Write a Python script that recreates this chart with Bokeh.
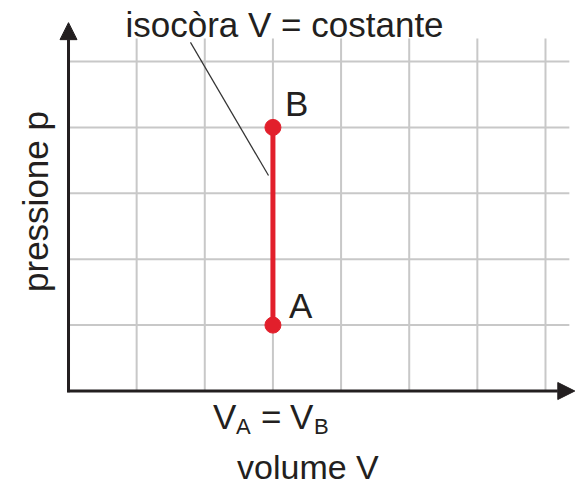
from bokeh.plotting import figure
from bokeh.models import Range1d, Arrow, NormalHead, ColumnDataSource
from bokeh.core.properties import value
from bokeh.embed import file_html
from bokeh.resources import INLINE

# Grid line positions, in grid-cell units
grid_v = [1, 2, 3, 4, 5, 6, 7]
grid_h = [1, 2, 3, 4, 5]

# Isochoric transformation A -> B (constant volume)
state_names = ["A", "B"]
state_volume = [3, 3]
state_pressure = [1, 4]

title_text = "isocòra V = costante"
x_title = "volume V"
y_title = "pressione p"
# tick label "V_A = V_B" built from normal and subscript pieces
tick_parts = ["V", "A", "=", "V", "B"]
tick_is_sub = [False, True, False, False, True]
tick_dx = [-60, -37, -12, 17, 41]

FONT = "Liberation Sans"
INK = "#231f20"
RED = "#e21f2b"
GRID = "#c8c8c8"
# the svg text baseline sits lower than the canvas one; lift every text by this
LIFT = -12

p = figure(
    width=576, height=486,
    x_range=Range1d(-0.998, 7.455), y_range=Range1d(-1.449, 5.926),
    x_axis_type=None, y_axis_type=None,
    min_border=0, toolbar_location=None, output_backend="svg",
    outline_line_color=None,
    background_fill_color="white", border_fill_color="white",
)

# grid: vertical lines rise a little above the top row, horizontal run past the last column
v_top = 5.35
h_right = 7.35
p.segment(x0=grid_v, y0=[0] * len(grid_v), x1=grid_v, y1=[v_top] * len(grid_v),
          line_color=GRID, line_width=2)
p.segment(x0=[0] * len(grid_h), y0=grid_h, x1=[h_right] * len(grid_h), y1=grid_h,
          line_color=GRID, line_width=2)

# axes with arrow heads
for xs, ys, xe, ye in [(0, -0.02, 0, 5.59), (-0.02, 0, 7.43, 0)]:
    p.add_layout(Arrow(
        x_start=xs, y_start=ys, x_end=xe, y_end=ye,
        line_color=INK, line_width=3,
        end=NormalHead(size=17, fill_color=INK, line_color=INK, line_width=1),
    ))

# the isochore and its end states
p.line(state_volume, state_pressure, line_color=RED, line_width=5)
p.scatter(state_volume, state_pressure, size=16, fill_color=RED, line_color=RED)

states = ColumnDataSource(dict(
    x=state_volume, y=state_pressure, text=state_names,
    dx=[16, 12], dy=[-8 + LIFT, -12 + LIFT],
))
p.text(x="x", y="y", text="text", x_offset="dx", y_offset="dy", source=states,
       text_font=value(FONT), text_font_size="35px", text_color=INK,
       text_align="left", text_baseline="alphabetic")

# callout for the isochore
p.line([1.79, 2.935], [5.29, 3.27], line_color="#333333", line_width=1.2)
p.text(x=[0.836], y=[5.38], text=[title_text], y_offset=LIFT,
       text_font=value(FONT), text_font_size="35px", text_color=INK,
       text_align="left", text_baseline="alphabetic")

# tick label under the isochore: V_A = V_B
tick = ColumnDataSource(dict(
    x=[state_volume[0]] * len(tick_parts), y=[0] * len(tick_parts), text=tick_parts,
    dx=tick_dx,
    dy=[(47.5 if s else 37.5) + LIFT for s in tick_is_sub],
    size=["22px" if s else "35px" for s in tick_is_sub],
))
p.text(x="x", y="y", text="text", x_offset="dx", y_offset="dy",
       text_font_size="size", source=tick,
       text_font=value(FONT), text_color=INK,
       text_align="left", text_baseline="alphabetic")

# axis titles
p.text(x=[state_volume[0]], y=[0], text=[x_title], x_offset=35, y_offset=87.5 + LIFT,
       text_font=value(FONT), text_font_size="34px", text_color=INK,
       text_align="center", text_baseline="alphabetic")
p.text(x=[-0.308], y=[2.876], text=[y_title], angle=1.5708, x_offset=LIFT,
       text_font=value(FONT), text_font_size="35px", text_color=INK,
       text_align="center", text_baseline="alphabetic")

open("out.html", "w").write(file_html(p, INLINE))
